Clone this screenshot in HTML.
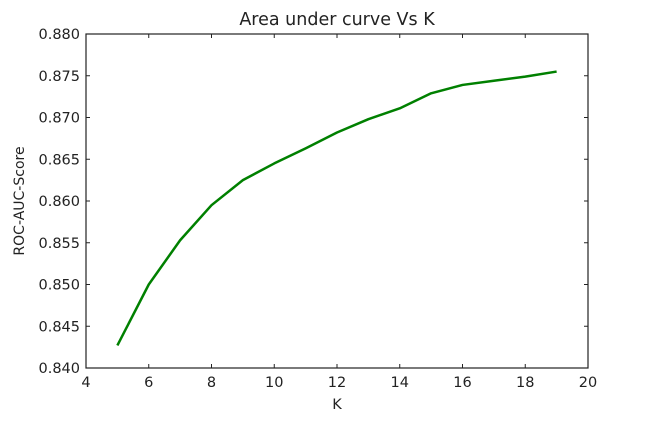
<!DOCTYPE html>
<html><head><meta charset="utf-8"><style>
html,body{margin:0;padding:0;background:#fff;width:651px;height:421px;overflow:hidden}
text{font-family:"DejaVu Sans","Liberation Sans",sans-serif;fill:#222}
</style></head><body>
<svg id="chart" width="651" height="421" viewBox="0 0 651 421" xmlns="http://www.w3.org/2000/svg">
<text x="337" y="25" font-size="17.5" text-anchor="middle">Area under curve Vs K</text>
<text x="337" y="409" font-size="14.5" text-anchor="middle">K</text>
<text transform="translate(24,201) rotate(-90)" font-size="14" text-anchor="middle">ROC-AUC-Score</text>
<g id="ticks"></g>
<polyline id="line" fill="none" stroke="#008000" stroke-width="2.5" stroke-linejoin="round"/>
<rect x="86" y="34" width="502" height="334" fill="none" stroke="#222" stroke-width="1.2"/>
</svg>
<script>
const kValues=[5,6,7,8,9,10,11,12,13,14,15,16,17,18,19];
const aucScores=[0.8427,0.8500,0.8553,0.8595,0.8625,0.8645,0.8663,0.8682,0.8698,0.8711,0.8729,0.8739,0.8744,0.8749,0.8755];
const xTicks=[4,6,8,10,12,14,16,18,20];
const yTicks=[0.840,0.845,0.850,0.855,0.860,0.865,0.870,0.875,0.880];
const L=86,R=588,T=34,B=368;
const xs=v=>L+(v-4)/(20-4)*(R-L);
const ys=v=>B-(v-0.840)/(0.880-0.840)*(B-T);
const NS="http://www.w3.org/2000/svg";
const g=document.getElementById('ticks');
function mk(t,a){const e=document.createElementNS(NS,t);for(const k in a)e.setAttribute(k,a[k]);g.appendChild(e);return e;}
xTicks.forEach(v=>{const x=xs(v);
 mk('line',{x1:x,x2:x,y1:B,y2:B-4,stroke:'#222'});
 mk('line',{x1:x,x2:x,y1:T,y2:T+4,stroke:'#222'});
 const t=mk('text',{x:x,y:B+19,'font-size':14.5,'text-anchor':'middle'});t.textContent=v;
 
 });
yTicks.forEach(v=>{const y=ys(v);
 mk('line',{x1:L,x2:L+4,y1:y,y2:y,stroke:'#222'});
 mk('line',{x1:R,x2:R-4,y1:y,y2:y,stroke:'#222'});
 const t=mk('text',{x:L-6,y:y+5,'font-size':14.5,'text-anchor':'end'});t.textContent=v.toFixed(3);
 
 });
document.getElementById('line').setAttribute('points',kValues.map((k,i)=>xs(k)+','+ys(aucScores[i])).join(' '));
</script>
</body></html>
